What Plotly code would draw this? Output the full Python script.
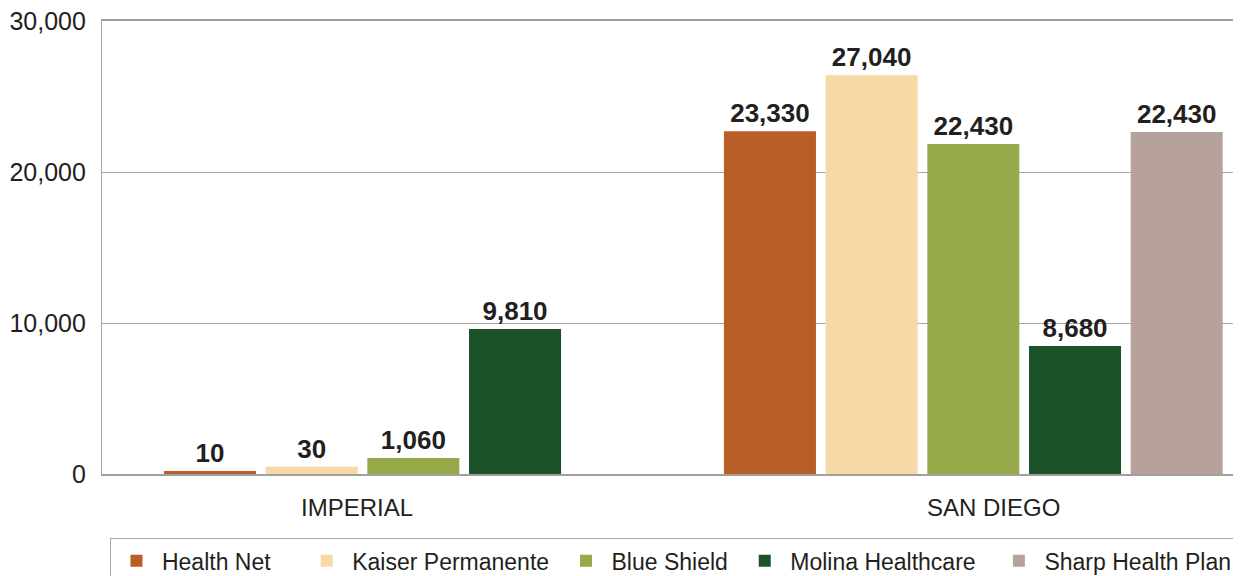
import plotly.graph_objects as go

categories = ["IMPERIAL", "SAN DIEGO"]
plans = ["Health Net", "Kaiser Permanente", "Blue Shield", "Molina Healthcare", "Sharp Health Plan"]
colors = ["#B95E26", "#F6D9A5", "#97AA4A", "#1C5227", "#B7A29B"]

# bar heights as drawn in the reference
health_net = [200, 22700]
kaiser = [480, 26400]
blue_shield = [1060, 21850]
molina = [9600, 8480]
sharp = [None, 22650]

# printed value labels
health_net_lbl = ["10", "23,330"]
kaiser_lbl = ["30", "27,040"]
blue_shield_lbl = ["1,060", "22,430"]
molina_lbl = ["9,810", "8,680"]
sharp_lbl = ["", "22,430"]

values = [health_net, kaiser, blue_shield, molina, sharp]
labels = [health_net_lbl, kaiser_lbl, blue_shield_lbl, molina_lbl, sharp_lbl]

y_ticks = [0, 10000, 20000, 30000]

FONT = "Liberation Sans"
TXT = "#231F20"
NB = "&nbsp;"
legend_pad = [4, 1, 1, 2, 0]

fig = go.Figure()
for name, vals, lbls, col, pad in zip(plans, values, labels, colors, legend_pad):
    fig.add_trace(go.Bar(
        name=name + NB * pad, x=categories, y=vals, text=lbls,
        textposition="outside", constraintext="none", cliponaxis=False,
        textfont=dict(family=FONT, size=26, color=TXT, weight="bold"),
        marker=dict(color=col, line=dict(width=0)),
    ))

# the page body adds an 8px offset; margins compensate for it
fig.update_layout(
    width=1241, height=576,
    margin=dict(l=94, r=8, t=13, b=110, autoexpand=False),
    paper_bgcolor="white", plot_bgcolor="white",
    barmode="group", bargap=0.092, bargroupgap=0.095,
    font=dict(family=FONT, color=TXT),
    showlegend=True,
    legend=dict(
        orientation="h", x=0.007, y=-0.142, xanchor="left", yanchor="top",
        font=dict(family=FONT, size=23, color=TXT),
        bordercolor="#A6A6A6", borderwidth=1, bgcolor="white",
        itemwidth=41, traceorder="normal",
    ),
    xaxis=dict(
        type="category", range=[-0.556, 1.478], automargin=False,
        showticklabels=False, showgrid=False, zeroline=False,
        showline=True, mirror=True, linecolor="#A0A0A0", linewidth=1.6,
    ),
    yaxis=dict(
        range=[0, 30000], tickvals=y_ticks, tickformat=",", automargin=False,
        tickfont=dict(family=FONT, size=25, color=TXT),
        ticklabeloverflow="allow",
        showgrid=True, gridcolor="#A6A6A6", gridwidth=1.3,
        zeroline=False, showline=True, linecolor="#A6A6A6", linewidth=1.3,
        ticklabelstandoff=10,
    ),
)

for cat, xp in zip(categories, [0.2239, 0.7823]):
    fig.add_annotation(text=cat, xref="paper", yref="paper", x=xp, y=-0.075,
                       showarrow=False, xanchor="center", yanchor="middle",
                       font=dict(family=FONT, size=24, color=TXT))

fig.write_html("out.html")
